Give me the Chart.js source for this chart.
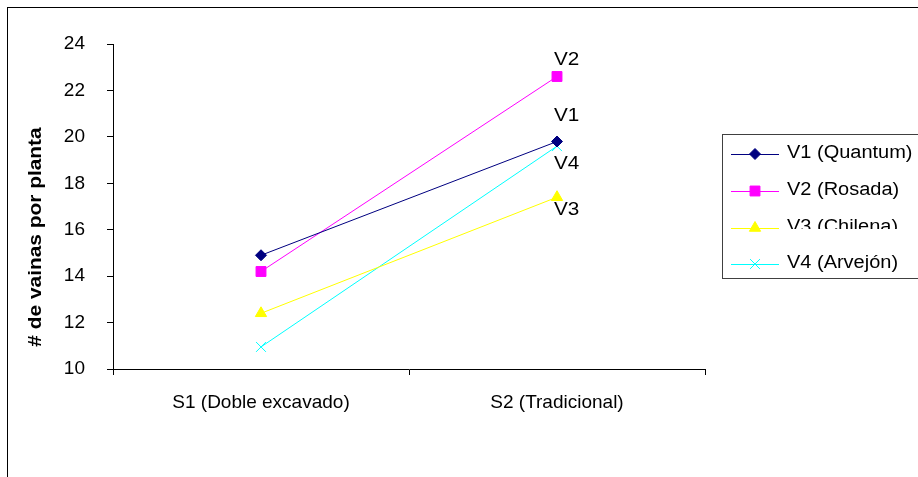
<!DOCTYPE html>
<html>
<head>
<meta charset="utf-8">
<script src="https://cdn.jsdelivr.net/npm/chart.js@4/dist/chart.umd.min.js"></script>
<style>
  body { margin: 0; background: #fff; }
  #wrap { width: 918px; height: 477px; }
</style>
</head>
<body>
<div id="wrap"><canvas id="chart" width="918" height="477"></canvas></div>
<script>
const categories = ['S1 (Doble excavado)', 'S2 (Tradicional)'];
const seriesNames = ['V1 (Quantum)', 'V2 (Rosada)', 'V3 (Chilena)', 'V4 (Arvejón)'];
const endTags = ['V1', 'V2', 'V3', 'V4'];
const v1 = [14.9, 19.8];
const v2 = [14.2, 22.6];
const v3 = [12.4, 17.4];
const v4 = [10.95, 19.6];
const yTicks = [10, 12, 14, 16, 18, 20, 22, 24];

const colors = ['#000080', '#ff00ff', '#ffff00', '#00ffff'];
const styles = ['rectRot', 'rect', 'triangle', 'crossRot'];
const radii = [5.5, 7, 6.5, 7];
const FONT = 'Arial, "Liberation Sans", sans-serif';

const makeSet = (i, values) => ({
    label: seriesNames[i],
    data: values,
    borderColor: colors[i],
    backgroundColor: colors[i],
    pointBackgroundColor: colors[i],
    pointBorderColor: colors[i],
    pointStyle: styles[i],
    pointRadius: radii[i],
    pointBorderWidth: 1,
    borderWidth: 1,
    tension: 0
});

// excel text comes out a bit wider than arial, so stretch it
const wideText = (ctx, text, x, y, sx) => {
    ctx.save();
    ctx.translate(x, y);
    ctx.scale(sx, 1);
    ctx.fillText(text, 0, 0);
    ctx.restore();
};

const decorPlugin = {
    id: 'decor',
    beforeDraw(chart) {
        const { ctx } = chart;
        ctx.save();
        ctx.fillStyle = '#fff';
        ctx.fillRect(0, 0, chart.width, chart.height);
        ctx.strokeStyle = '#000';
        ctx.lineWidth = 1;
        ctx.strokeRect(7.5, 7.5, 1000, 1000);
        ctx.restore();
    },
    afterDatasetsDraw(chart) {
        const { ctx } = chart;
        ctx.save();
        // y axis title
        ctx.translate(36, 237);
        ctx.rotate(-Math.PI / 2);
        ctx.font = 'bold 18px ' + FONT;
        ctx.fillStyle = '#000';
        ctx.textAlign = 'center';
        ctx.textBaseline = 'middle';
        wideText(ctx, '# de vainas por planta', 0, 0, 1.16);
        ctx.restore();

        // tags at S2 points
        const tagOffsets = [-25, -16, 13, 18];
        ctx.save();
        ctx.font = '18px ' + FONT;
        ctx.fillStyle = '#000';
        ctx.textAlign = 'left';
        ctx.textBaseline = 'middle';
        chart.data.datasets.forEach((ds, i) => {
            const meta = chart.getDatasetMeta(i);
            const pt = meta.data[meta.data.length - 1];
            wideText(ctx, endTags[i], pt.x - 3, pt.y + tagOffsets[i], 1.15);
        });
        ctx.restore();

        // legend
        const rows = [154, 191, 228, 264];
        ctx.save();
        ctx.strokeStyle = '#404040';
        ctx.lineWidth = 1;
        ctx.strokeRect(722.5, 134.5, 400, 144);
        ctx.font = '18px ' + FONT;
        ctx.textBaseline = 'middle';
        chart.data.datasets.forEach((ds, i) => {
            const y = rows[i];
            ctx.strokeStyle = ds.borderColor;
            ctx.fillStyle = ds.borderColor;
            ctx.lineWidth = 1;
            ctx.beginPath();
            ctx.moveTo(731, y + 0.5);
            ctx.lineTo(779, y + 0.5);
            ctx.stroke();
            Chart.helpers.drawPoint(ctx, { pointStyle: ds.pointStyle, radius: ds.pointRadius, rotation: 0, borderWidth: 1 }, 755, y);
            ctx.save();
            if (i === 2) {
                ctx.beginPath();
                ctx.rect(780, y - 20, 140, 21);
                ctx.clip();
            }
            ctx.fillStyle = '#000';
            wideText(ctx, ds.label, 787, y - 1, 1.11);
            ctx.restore();
        });
        ctx.restore();
    }
};

new Chart(document.getElementById('chart'), {
    type: 'line',
    data: {
        labels: categories,
        datasets: [makeSet(0, v1), makeSet(1, v2), makeSet(2, v3), makeSet(3, v4)]
    },
    options: {
        responsive: false,
        animation: false,
        events: [],
        layout: { padding: { left: 0, top: 44, right: 213, bottom: 0 } },
        plugins: {
            legend: { display: false },
            tooltip: { enabled: false }
        },
        scales: {
            x: {
                offset: true,
                grid: { offset: true, drawOnChartArea: false, drawTicks: true, tickLength: 6, color: '#000' },
                border: { color: '#000', width: 1 },
                ticks: { color: '#000', font: { family: FONT, size: 19 }, padding: 16, maxRotation: 0 },
                afterFit: s => { s.height = 108; }
            },
            y: {
                min: 10,
                max: 24,
                afterBuildTicks: s => { s.ticks = yTicks.map(v => ({ value: v })); },
                grid: { drawOnChartArea: false, drawTicks: true, tickLength: 6, color: '#000' },
                border: { color: '#000', width: 1 },
                ticks: { color: '#000', font: { family: FONT, size: 19 }, padding: 22 },
                afterFit: s => { s.width = 113; }
            }
        }
    },
    plugins: [decorPlugin]
});
</script>
</body>
</html>
